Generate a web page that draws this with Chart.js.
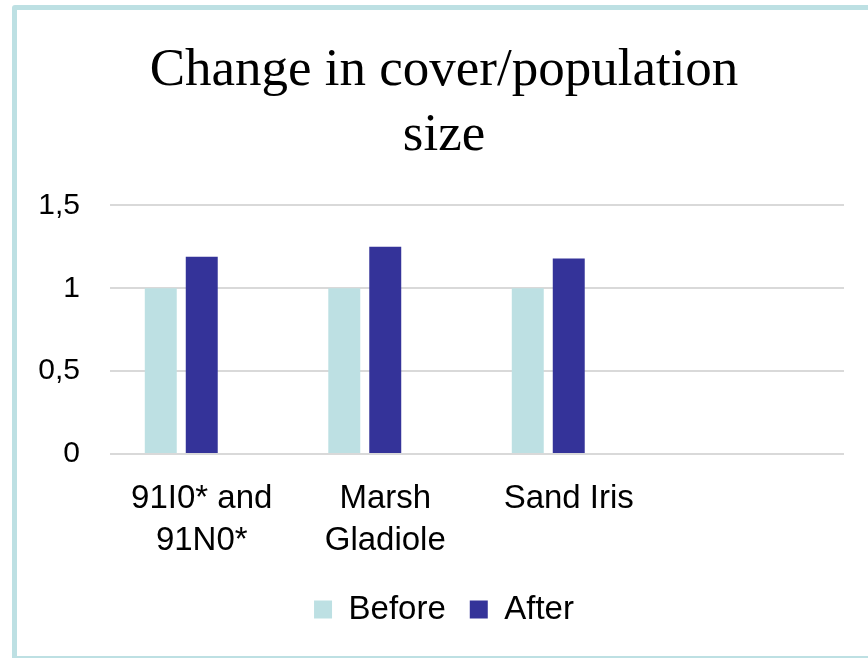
<!DOCTYPE html>
<html>
<head>
<meta charset="utf-8">
<script src="https://cdn.jsdelivr.net/npm/chart.js@4/dist/chart.umd.min.js"></script>
<style>
  html, body { margin: 0; padding: 0; background: #fff; overflow: hidden; }
  #frame {
    position: absolute;
    left: 12px;
    top: 5px;
    width: 900px;
    height: 646px;
    border: 5px solid #bde0e3;
    border-radius: 3px;
    background: #fff;
  }
  #wrap { position: absolute; left: 0; top: 0; width: 854px; height: 646px; }
</style>
</head>
<body>
<div id="frame"><div id="wrap"><canvas id="coverChart"></canvas></div></div>
<script>
const categories = [["91I0* and", "91N0*"], ["Marsh", "Gladiole"], "Sand Iris", ""];
const beforeValues = [1, 1, 1, null];
const afterValues = [1.19, 1.25, 1.18, null];
const emptyValues = [null, null, null, null];
const yTicks = [0, 0.5, 1, 1.5];

const sansFont = "'Liberation Sans', Arial, sans-serif";

const ctx = document.getElementById("coverChart").getContext("2d");
new Chart(ctx, {
  type: "bar",
  data: {
    labels: categories,
    datasets: [
      { label: "Before", data: beforeValues, backgroundColor: "#bde0e3" },
      { label: "After", data: afterValues, backgroundColor: "#343399" },
      // Excel leaves room for a third (empty) series, which pushes the pairs left
      { label: "", data: emptyValues, backgroundColor: "transparent" },
    ],
  },
  options: {
    responsive: true,
    maintainAspectRatio: false,
    animation: false,
    categoryPercentage: 0.67,
    barPercentage: 0.78,
    layout: { padding: { top: 28, right: 0, bottom: 20, left: 0 } },
    plugins: {
      title: {
        display: true,
        text: ["Change in cover/population", "size"],
        color: "#000",
        font: { family: "'Liberation Serif', 'Times New Roman', serif", size: 53, weight: "normal", lineHeight: 1.23 },
        padding: { top: 0, bottom: 37 },
      },
      legend: {
        position: "bottom",
        labels: {
          color: "#000",
          font: { family: sansFont, size: 33 },
          boxWidth: 18,
          boxHeight: 18,
          padding: 24,
          filter: (item) => item.text !== "",
        },
      },
      tooltip: { enabled: false },
    },
    scales: {
      x: {
        afterFit: (scale) => { scale.height = 115; },
        grid: { display: false },
        border: { display: false },
        ticks: {
          color: "#000",
          font: { family: sansFont, size: 33, lineHeight: 1.3 },
          padding: 15,
          maxRotation: 0,
          autoSkip: false,
        },
      },
      y: {
        min: 0,
        max: 1.5,
        afterBuildTicks: (scale) => { scale.ticks = yTicks.map((v) => ({ value: v })); },
        afterFit: (scale) => { scale.width = 93; },
        grid: { color: "#d9d9d9", lineWidth: 2, drawTicks: false },
        border: { display: false },
        ticks: {
          color: "#000",
          font: { family: sansFont, size: 30 },
          padding: 30,
          callback: (value) => String(value).replace(".", ","),
        },
      },
      // blank strip on the right so the plot stops short of the frame
      spacer: {
        type: "linear",
        position: "right",
        afterFit: (scale) => { scale.width = 27; },
        grid: { display: false },
        border: { display: false },
        ticks: { display: false },
      },
    },
  },
});
</script>
</body>
</html>
